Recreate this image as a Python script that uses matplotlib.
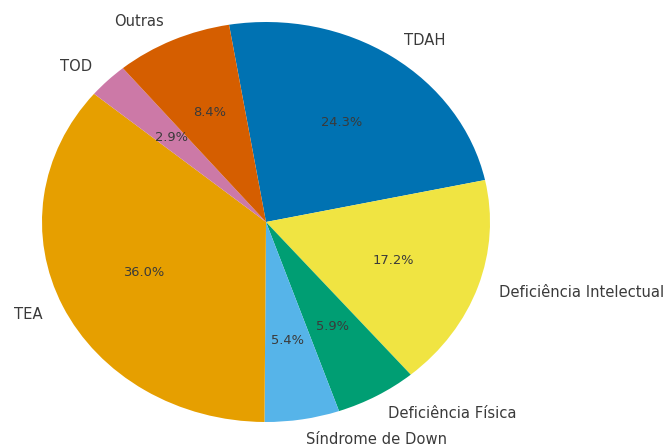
import numpy as np
import matplotlib; matplotlib.use("Agg")
import matplotlib.pyplot as plt

labels = ["TDAH", "Deficiência Intelectual", "Deficiência Física", "Síndrome de Down",
          "TEA", "TOD", "Outras"]
shares = [24.3, 17.2, 5.9, 5.4, 36.0, 2.9, 8.4]
colors = ["#0072b2", "#f0e442", "#009e73", "#56b4e9", "#e69f00", "#cc79a7", "#d55e00"]

fig = plt.figure(figsize=(6.7, 4.45), dpi=100)
ax = fig.add_axes([0, 0, 1, 1])
wedges, texts, autotexts = ax.pie(shares, labels=labels, colors=colors, autopct="%1.1f%%",
                                  startangle=99.5, counterclock=False,
                                  textprops=dict(color="#3a3a3a", fontsize=10.6))
for t in autotexts:
    t.set_fontsize(9.4)
ax.set_aspect("auto")
# ellipse: centre (266,222) px, radii 224 x 200 px
ax.set_xlim(-266 / 224, (670 - 266) / 224)
ax.set_ylim(-(445 - 222) / 200, 222 / 200)
fig.savefig("out.png", dpi=100)
